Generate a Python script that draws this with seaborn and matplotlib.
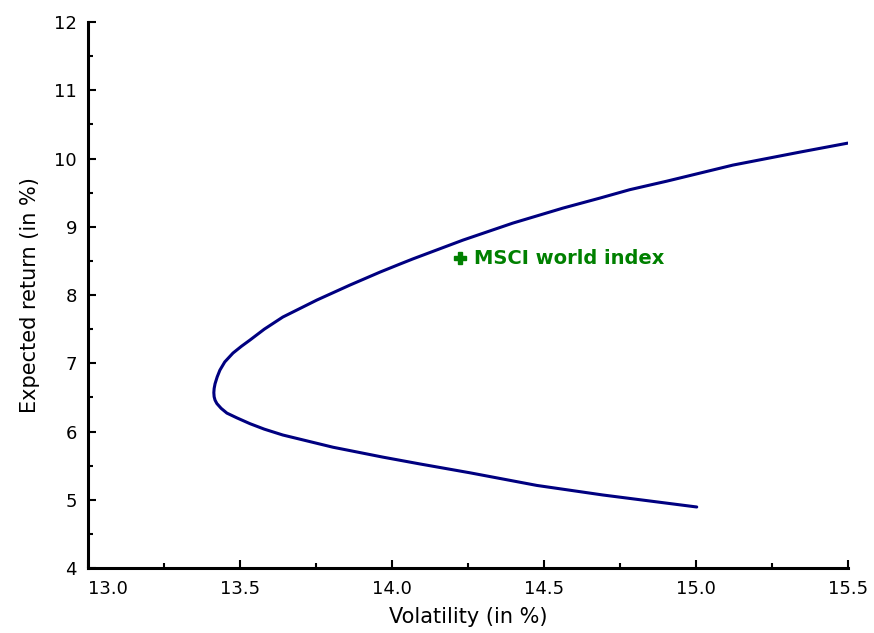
"""Efficient frontier of volatility vs expected return, with MSCI world index."""

import matplotlib
matplotlib.use("Agg")
import matplotlib.pyplot as plt
from matplotlib.ticker import FormatStrFormatter, MultipleLocator
import pandas as pd
import seaborn as sns

# frontier points (lower branch -> vertex -> upper branch)
volatility = [15.003, 14.694, 14.477, 14.257, 14.092, 13.970, 13.806, 13.641,
              13.580, 13.533, 13.490, 13.457, 13.438, 13.424, 13.418, 13.415,
              13.414, 13.415, 13.418, 13.425, 13.434, 13.450, 13.477, 13.505,
              13.533, 13.580, 13.641, 13.753, 13.862, 13.961, 14.026, 14.069,
              14.234, 14.398, 14.563, 14.684, 14.783, 14.905, 15.122, 15.342,
              15.500]
exp_return = [4.894, 5.070, 5.210, 5.395, 5.525, 5.625, 5.770, 5.949,
              6.035, 6.115, 6.200, 6.270, 6.340, 6.410, 6.460, 6.510,
              6.570, 6.630, 6.700, 6.800, 6.900, 7.020, 7.150, 7.250,
              7.341, 7.500, 7.678, 7.927, 8.147, 8.337, 8.454, 8.530,
              8.806, 9.055, 9.275, 9.421, 9.545, 9.670, 9.905, 10.095,
              10.227]

index_name = "MSCI world index"
index_vol = [14.224]
index_ret = [8.542]

frontier = pd.DataFrame({"vol": volatility, "ret": exp_return})

sns.set_style("white")
plt.rcParams["font.family"] = ["DejaVu Sans"]

fig = plt.figure(figsize=(8.74, 6.33), dpi=100)
ax = fig.add_axes([0.1007, 0.1027, 0.8693, 0.8623])

sns.lineplot(data=frontier, x="vol", y="ret", sort=False, estimator=None,
             color="#000080", linewidth=2.2, ax=ax)
ax.plot(index_vol, index_ret, marker="P", color="#008000", markersize=9,
        linestyle="none")
ax.annotate(index_name, (index_vol[0], index_ret[0]), xytext=(10, 0),
            textcoords="offset points", va="center", ha="left",
            color="#008000", fontsize=14, fontweight="bold")

ax.set_xlim(13.0, 15.5)
ax.set_ylim(4, 12)
ax.xaxis.set_major_locator(MultipleLocator(0.5))
ax.xaxis.set_minor_locator(MultipleLocator(0.25))
ax.yaxis.set_major_locator(MultipleLocator(1))
ax.yaxis.set_minor_locator(MultipleLocator(0.5))
ax.xaxis.set_major_formatter(FormatStrFormatter("%.1f"))

ax.tick_params(which="both", direction="in", width=1.5, labelsize=13,
               colors="black", bottom=True, left=True)
ax.tick_params(which="major", length=6)
ax.tick_params(which="minor", length=3.5)
ax.tick_params(axis="x", which="major", pad=9)
ax.tick_params(axis="y", which="major", pad=8)

for side in ["top", "right"]:
    ax.spines[side].set_visible(False)
for side in ["left", "bottom"]:
    ax.spines[side].set_linewidth(2.2)
    ax.spines[side].set_color("black")

ax.set_xlabel("Volatility (in %)", fontsize=15, labelpad=6, color="black")
ax.set_ylabel("Expected return (in %)", fontsize=15, labelpad=10, color="black")

# first x label sits just right of the y axis, as in the reference
fig.canvas.draw()
for tick in ax.xaxis.get_major_ticks():
    if tick.label1.get_text() == "13.0":
        tick.label1.set_horizontalalignment("left")

fig.savefig("out.png", dpi=100)
